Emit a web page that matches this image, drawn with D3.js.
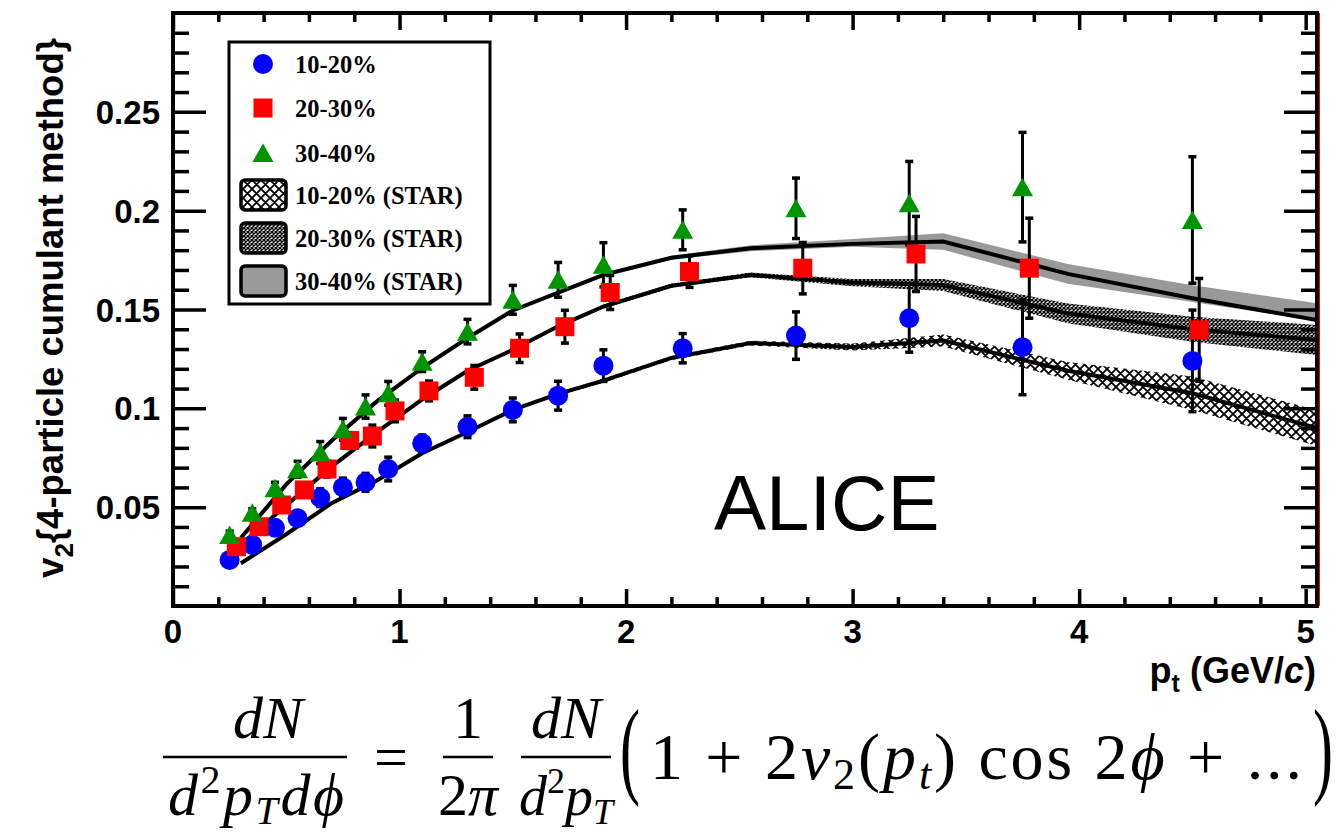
<!DOCTYPE html>
<html><head><meta charset="utf-8">
<script src="https://cdn.jsdelivr.net/npm/d3@7"></script>
<style>body{margin:0;background:#fff}</style>
</head><body>
<svg id="c" width="1342" height="832"></svg>
<script>
// ---------------- DATA ----------------
// ALICE v2{4}, 10-20%
const pt10 = [0.25,0.35,0.45,0.55,0.65,0.75,0.85,0.95,1.1,1.3,1.5,1.7,1.9,2.25,2.75,3.25,3.75,4.5];
const v10  = [0.0233,0.0309,0.0396,0.0444,0.0548,0.0601,0.0626,0.0693,0.0823,0.0907,0.0992,0.1064,0.1216,0.1304,0.1368,0.1456,0.1309,0.124];
const e10  = [0.002,0.002,0.002,0.0025,0.0045,0.0046,0.0045,0.006,0.0042,0.0055,0.006,0.0073,0.008,0.0074,0.012,0.0172,0.024,0.0257];
// ALICE v2{4}, 20-30%
const pt20 = [0.28,0.38,0.48,0.58,0.68,0.78,0.88,0.98,1.13,1.33,1.53,1.73,1.93,2.28,2.78,3.28,3.78,4.53];
const v20  = [0.030,0.0401,0.0511,0.0587,0.0693,0.0837,0.086,0.0987,0.1088,0.1157,0.1304,0.1413,0.1586,0.1692,0.1709,0.1781,0.1709,0.1397];
const e20  = [0.002,0.002,0.002,0.003,0.004,0.004,0.0055,0.0055,0.005,0.006,0.0072,0.0083,0.0086,0.008,0.013,0.019,0.0253,0.026];
// ALICE v2{4}, 30-40%
const pt30 = [0.25,0.35,0.45,0.55,0.65,0.75,0.85,0.95,1.1,1.3,1.5,1.7,1.9,2.25,2.75,3.25,3.75,4.5];
const v30  = [0.0359,0.0472,0.0596,0.0692,0.0776,0.0894,0.1009,0.1076,0.1236,0.1388,0.1549,0.165,0.1726,0.1903,0.2012,0.2038,0.2119,0.1953];
const e30  = [0.002,0.002,0.003,0.004,0.0056,0.0055,0.0059,0.006,0.005,0.0062,0.0073,0.0088,0.0112,0.0101,0.0153,0.0211,0.0277,0.032];

// STAR bands
const ptStar   = [0.3,0.5,0.7,0.9,1.1,1.3,1.5,1.7,1.9,2.2,2.55,3.0,3.4,3.95,4.5,5.05];
const star10   = [0.0216,0.0363,0.052,0.0635,0.0773,0.088,0.0992,0.1073,0.114,0.1255,0.133,0.131,0.1343,0.119,0.1076,0.09];
const star10Er = [0.0008,0.0008,0.0008,0.0008,0.0008,0.0008,0.0008,0.0008,0.001,0.001,0.0012,0.0018,0.003,0.0045,0.0085,0.009];
const star20   = [0.031,0.051,0.0705,0.088,0.1045,0.119,0.1296,0.1415,0.1515,0.162,0.1675,0.1636,0.1624,0.148,0.14,0.1346];
const star20Er = [0.0008,0.0008,0.0008,0.0008,0.0008,0.0008,0.0008,0.0008,0.001,0.001,0.0012,0.0018,0.003,0.005,0.0063,0.0076];
const star30   = [0.0345,0.0615,0.0836,0.1035,0.1205,0.1356,0.1495,0.1585,0.1675,0.1762,0.181,0.1832,0.1844,0.168,0.1557,0.1447];
const star30Hi = [0.0008,0.0008,0.0008,0.0008,0.0008,0.0008,0.0008,0.0008,0.001,0.001,0.0015,0.0025,0.0042,0.005,0.0066,0.0085];
const star30Lo = [0.0008,0.0008,0.0008,0.0008,0.0008,0.0008,0.0008,0.0008,0.001,0.001,0.0015,0.0015,0.0042,0.005,0.0019,0.0005];

const xTickValues = [0,1,2,3,4,5];
const xTickLabels = ["0","1","2","3","4","5"];
const yTickValues = [0.05,0.1,0.15,0.2,0.25];
const yTickLabels = ["0.05","0.1","0.15","0.2","0.25"];
const legendLabels = ["10-20%","20-30%","30-40%","10-20% (STAR)","20-30% (STAR)","30-40% (STAR)"];

// ---------------- DRAW ----------------
const svg = d3.select("#c");
svg.append("rect").attr("width",1342).attr("height",832).attr("fill","#fff");

const x = d3.scaleLinear().domain([0,5.05]).range([173,1317]);
const y = d3.scaleLinear().domain([0,0.3]).range([606,13]);

const defs = svg.append("defs");
defs.append("clipPath").attr("id","plotClip").append("rect")
  .attr("x",x(0)).attr("y",y(0.3)).attr("width",x(5.05)-x(0)).attr("height",y(0)-y(0.3));
const pX = defs.append("pattern").attr("id","hatchX").attr("patternUnits","userSpaceOnUse")
  .attr("width",9).attr("height",9);
pX.append("path").attr("d","M0,0L9,9M9,0L0,9M-1,1L1,-1M8,10L10,8").attr("stroke","#000").attr("stroke-width",1.8);
const pF = defs.append("pattern").attr("id","hatchF").attr("patternUnits","userSpaceOnUse")
  .attr("width",4).attr("height",4);
pF.append("path").attr("d","M0,0L4,4M4,0L0,4").attr("stroke","#000").attr("stroke-width",1.4);

const plot = svg.append("g").attr("clip-path","url(#plotClip)");

// STAR bands
function band(vals, hi, lo, fill){
  const rows = ptStar.map((p,i)=>({p, v:vals[i], hi:hi[i], lo:lo[i]}));
  plot.append("path").datum(rows)
    .attr("d", d3.area().x(d=>x(d.p)).y0(d=>y(d.v-d.lo)).y1(d=>y(d.v+d.hi)))
    .attr("fill", fill);
  return rows;
}
const r30 = band(star30, star30Hi, star30Lo, "#999999");
const r20 = band(star20, star20Er, star20Er, "url(#hatchF)");
const r10 = band(star10, star10Er, star10Er, "url(#hatchX)");
[r30,r20,r10].forEach(rows=>{
  plot.append("path").datum(rows)
    .attr("d", d3.line().x(d=>x(d.p)).y(d=>y(d.v)))
    .attr("fill","none").attr("stroke","#000").attr("stroke-width",4);
});

// ALICE points
const series = [
  {pt:pt10, v:v10, e:e10, shape:"circle", color:"#0000ff"},
  {pt:pt20, v:v20, e:e20, shape:"square", color:"#ff0000"},
  {pt:pt30, v:v30, e:e30, shape:"triangle", color:"#009400"}
];
const eg = plot.append("g");
series.forEach(s=>{
  s.pt.forEach((p,i)=>{
    const cx = x(p), lo = y(s.v[i]-s.e[i]), hi = y(s.v[i]+s.e[i]);
    eg.append("line").attr("x1",cx).attr("x2",cx).attr("y1",lo).attr("y2",hi)
      .attr("stroke","#000").attr("stroke-width",3);
    [lo,hi].forEach(yy=>eg.append("line").attr("x1",cx-4).attr("x2",cx+4).attr("y1",yy).attr("y2",yy)
      .attr("stroke","#000").attr("stroke-width",3.5));
  });
});
function marker(g, shape, cx, cy, color){
  if(shape==="circle") g.append("circle").attr("cx",cx).attr("cy",cy).attr("r",10).attr("fill",color);
  else if(shape==="square") g.append("rect").attr("x",cx-9.5).attr("y",cy-9.5).attr("width",19).attr("height",19).attr("fill",color);
  else g.append("path").attr("d",`M${cx-10.5},${cy+9}L${cx+10.5},${cy+9}L${cx},${cy-9.5}Z`).attr("fill",color);
}
const mg = plot.append("g");
series.forEach(s=>s.pt.forEach((p,i)=>marker(mg, s.shape, x(p), y(s.v[i]), s.color)));

// Axes ticks (inward)
function tickStyle(g){ g.select(".domain").remove(); g.selectAll("line").attr("stroke","#000").attr("stroke-width",3.5); g.selectAll("text").remove(); }
const xMinor = d3.range(0,5.05,0.2).filter(v=>Math.abs(v-Math.round(v))>1e-6);
const yMinor = d3.range(0.01,0.3,0.01).filter(v=>Math.abs(v/0.05-Math.round(v/0.05))>1e-6);
svg.append("g").attr("transform",`translate(0,${y(0)})`).call(d3.axisBottom(x).tickValues(xTickValues).tickSize(-17)).call(tickStyle);
svg.append("g").attr("transform",`translate(0,${y(0)})`).call(d3.axisBottom(x).tickValues(xMinor).tickSize(-9)).call(tickStyle);
svg.append("g").attr("transform",`translate(0,${y(0.3)})`).call(d3.axisTop(x).tickValues(xTickValues).tickSize(-17)).call(tickStyle);
svg.append("g").attr("transform",`translate(0,${y(0.3)})`).call(d3.axisTop(x).tickValues(xMinor).tickSize(-9)).call(tickStyle);
svg.append("g").attr("transform",`translate(${x(0)},0)`).call(d3.axisLeft(y).tickValues(yTickValues).tickSize(-33)).call(tickStyle);
svg.append("g").attr("transform",`translate(${x(0)},0)`).call(d3.axisLeft(y).tickValues(yMinor).tickSize(-16)).call(tickStyle);
svg.append("g").attr("transform",`translate(${x(5.05)},0)`).call(d3.axisRight(y).tickValues(yTickValues).tickSize(-33)).call(tickStyle);
svg.append("g").attr("transform",`translate(${x(5.05)},0)`).call(d3.axisRight(y).tickValues(yMinor).tickSize(-16)).call(tickStyle);

// Tick labels
const tickFont = "'Liberation Sans', Arial, sans-serif";
svg.append("g").selectAll("text").data(xTickValues).join("text")
  .attr("x",d=>x(d)).attr("y",643).attr("text-anchor","middle")
  .attr("font-family",tickFont).attr("font-weight","bold").attr("font-size",33)
  .text((d,i)=>xTickLabels[i]);
svg.append("g").selectAll("text").data(yTickValues).join("text")
  .attr("x",160).attr("y",d=>y(d)+12).attr("text-anchor","end")
  .attr("font-family",tickFont).attr("font-weight","bold").attr("font-size",33)
  .text((d,i)=>yTickLabels[i]);

// Frame
svg.append("rect").attr("x",x(0)).attr("y",y(0.3)).attr("width",x(5.05)-x(0)).attr("height",y(0)-y(0.3))
  .attr("fill","none").attr("stroke","#000").attr("stroke-width",4);
svg.append("line").attr("x1",x(5.05)+2.5).attr("x2",x(5.05)+2.5).attr("y1",y(0.3)).attr("y2",y(0))
  .attr("stroke","#e00").attr("stroke-width",1);

// Axis titles
const yt = svg.append("text").attr("transform","translate(63,308) rotate(-90)").attr("text-anchor","middle")
  .attr("font-family",tickFont).attr("font-weight","bold").attr("font-size",36.5);
yt.append("tspan").text("v");
yt.append("tspan").attr("font-size",26).attr("dy",10).text("2");
yt.append("tspan").attr("dy",-10).text("{4-particle cumulant method}");

const xt = svg.append("text").attr("x",1316).attr("y",683).attr("text-anchor","end")
  .attr("font-family",tickFont).attr("font-weight","bold").attr("font-size",36);
xt.append("tspan").text("p");
xt.append("tspan").attr("font-size",25).attr("dy",9).text("t");
xt.append("tspan").attr("dy",-9).text(" (GeV/");
xt.append("tspan").attr("font-style","italic").text("c");
xt.append("tspan").text(")");

// ALICE label
svg.append("text").attr("x",714).attr("y",530).attr("font-family",tickFont).attr("font-size",78).text("ALICE");

// Legend
const lg = svg.append("g");
lg.append("rect").attr("x",229).attr("y",42).attr("width",261).attr("height",262)
  .attr("fill","#fff").attr("stroke","#000").attr("stroke-width",3);
const rowsY = [64,108,153,195,238,281];
const legFont = "'Liberation Serif', 'Times New Roman', serif";
legendLabels.forEach((lab,i)=>{
  const cy = rowsY[i];
  if(i<3) marker(lg, series[i].shape, 263, cy, series[i].color);
  else {
    const fills = ["url(#hatchX)","url(#hatchF)","#999999"];
    lg.append("rect").attr("x",241).attr("y",cy-15).attr("width",45).attr("height",30).attr("rx",4)
      .attr("fill",fills[i-3]).attr("stroke","#000").attr("stroke-width",3.5);
  }
  lg.append("text").attr("x",295).attr("y",cy+8.5).attr("font-family",legFont).attr("font-weight","bold")
    .attr("font-size",24.5).text(lab);
});

// Formula
const fm = "'Liberation Serif', 'DejaVu Serif', 'Times New Roman', serif";
const F = svg.append("g").attr("font-family",fm).attr("font-size",60);
F.append("text").attr("x",268).attr("y",738).attr("text-anchor","middle").attr("font-style","italic").text("dN");
F.append("line").attr("x1",163).attr("x2",347).attr("y1",757).attr("y2",757).attr("stroke","#000").attr("stroke-width",2.5);
const den1 = F.append("text").attr("x",168).attr("y",815).attr("font-style","italic").attr("textLength",176).attr("lengthAdjust","spacing");
den1.append("tspan").text("d");
den1.append("tspan").attr("font-style","normal").attr("font-size",40).attr("dy",-22).text("2");
den1.append("tspan").attr("dy",22).text("p");
den1.append("tspan").attr("font-size",40).attr("dy",9).text("T");
den1.append("tspan").attr("dy",-9).text("dϕ");
F.append("text").attr("x",391).attr("y",777).attr("text-anchor","middle").text("=");
F.append("text").attr("x",468).attr("y",738).attr("text-anchor","middle").text("1");
F.append("line").attr("x1",443).attr("x2",493).attr("y1",757).attr("y2",757).attr("stroke","#000").attr("stroke-width",2.5);
const den2 = F.append("text").attr("x",468).attr("y",815).attr("text-anchor","middle");
den2.append("tspan").text("2");
den2.append("tspan").attr("font-style","italic").text("π");
F.append("text").attr("x",566).attr("y",738).attr("text-anchor","middle").attr("font-style","italic").text("dN");
F.append("line").attr("x1",521).attr("x2",611).attr("y1",757).attr("y2",757).attr("stroke","#000").attr("stroke-width",2.5);
const den3 = F.append("text").attr("x",566).attr("y",815).attr("text-anchor","middle").attr("font-style","italic").attr("font-size",56);
den3.append("tspan").text("d");
den3.append("tspan").attr("font-style","normal").attr("font-size",36).attr("dy",-22).text("2");
den3.append("tspan").attr("dy",22).text("p");
den3.append("tspan").attr("font-size",36).attr("dy",9).text("T");
// tall, thin parentheses
F.append("g").attr("transform","translate(620,759) scale(1,1.8)")
  .append("text").attr("x",0).attr("y",14).text("(");
F.append("g").attr("transform","translate(1313,759) scale(1,1.8)")
  .append("text").attr("x",0).attr("y",14).text(")");
const inner = F.append("text").attr("x",650).attr("y",779).attr("font-size",66).attr("textLength",652).attr("lengthAdjust","spacing");
inner.append("tspan").text("1 + 2");
inner.append("tspan").attr("font-style","italic").text("v");
inner.append("tspan").attr("font-size",44).attr("dy",10).text("2");
inner.append("tspan").attr("dy",-10).text("(");
inner.append("tspan").attr("font-style","italic").text("p");
inner.append("tspan").attr("font-style","italic").attr("font-size",44).attr("dy",10).text("t");
inner.append("tspan").attr("dy",-10).text(") cos 2");
inner.append("tspan").attr("font-style","italic").text("ϕ");
inner.append("tspan").text(" + ...");
</script>
</body></html>
